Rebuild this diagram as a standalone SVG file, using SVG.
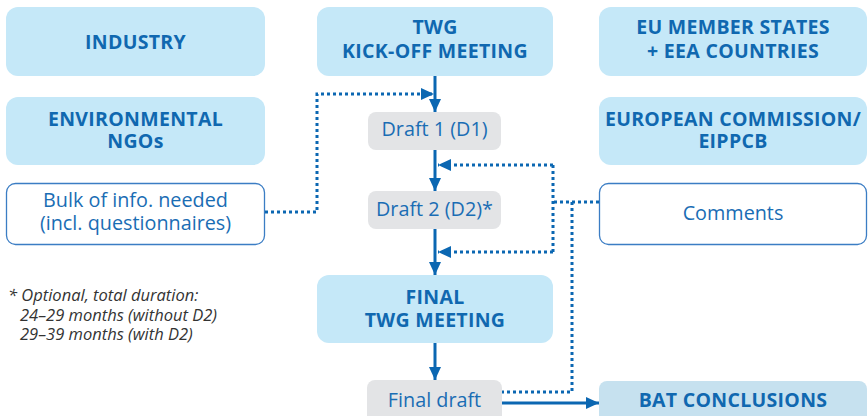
<svg xmlns="http://www.w3.org/2000/svg" width="868" height="416" viewBox="0 0 868 416">
<defs>
<style>
.blue{fill:#c5e8f8}
.grey{fill:#e3e4e6}
.out{fill:#ffffff;stroke:#3b7dc4;stroke-width:1.3}
.bat{fill:#c6e1ef}
.h{font-family:"Open Sans","Noto Sans","DejaVu Sans",sans-serif;font-weight:bold;font-size:19.5px;fill:#1068b0;text-anchor:middle;letter-spacing:0.3px}
.t{font-family:"Open Sans","Noto Sans","DejaVu Sans",sans-serif;font-size:19.8px;fill:#1a6db4;text-anchor:middle}
.n{font-family:"Open Sans","Noto Sans","DejaVu Sans",sans-serif;font-style:italic;font-size:16.5px;fill:#333333}
.solid{stroke:#0b67b2;stroke-width:3;fill:none}
.dot{stroke:#0b67b2;stroke-width:3;fill:none;stroke-dasharray:3 3}
</style>
<marker id="ah" markerUnits="userSpaceOnUse" markerWidth="14" markerHeight="14" viewBox="0 0 14 14" refX="13" refY="7" orient="auto">
<path d="M0,1 L13,7 L0,13 Z" fill="#0b67b2"/>
</marker>
</defs>

<g id="industry"><rect class="blue" x="6" y="7" width="259" height="69" rx="12"/><text class="h" x="135.5" y="49">INDUSTRY</text></g>
<g id="ngos"><rect class="blue" x="6" y="97" width="259" height="68" rx="12"/><text class="h" x="135.5" y="126">ENVIRONMENTAL<tspan x="135.5" dy="22">NGOs</tspan></text></g>
<g id="bulk"><rect class="out" x="6.5" y="183.5" width="258" height="61" rx="9"/><text class="t" x="135.5" y="207">Bulk of info. needed<tspan x="135.5" dy="23">(incl. questionnaires)</tspan></text></g>

<g id="kickoff"><rect class="blue" x="317" y="7" width="236" height="69" rx="12"/><text class="h" x="435" y="34">TWG<tspan x="435" dy="24">KICK-OFF MEETING</tspan></text></g>
<g id="draft1"><rect class="grey" x="368" y="112" width="133" height="38" rx="8"/><text class="t" x="434.5" y="136">Draft 1 (D1)</text></g>
<g id="draft2"><rect class="grey" x="368" y="191" width="133" height="38" rx="8"/><text class="t" x="434.5" y="215.5">Draft 2 (D2)*</text></g>
<g id="finaltwg"><rect class="blue" x="317" y="275" width="236" height="68" rx="12"/><text class="h" x="435" y="304">FINAL<tspan x="435" dy="23">TWG MEETING</tspan></text></g>
<g id="finaldraft"><rect class="grey" x="367" y="380" width="135" height="44" rx="8"/><text class="t" x="434.5" y="407">Final draft</text></g>

<g id="memberstates"><rect class="blue" x="599" y="7" width="268" height="69" rx="12"/><text class="h" x="733" y="34">EU MEMBER STATES<tspan x="733" dy="24">+ EEA COUNTRIES</tspan></text></g>
<g id="commission"><rect class="blue" x="599" y="97" width="268" height="68" rx="12"/><text class="h" x="733" y="126">EUROPEAN COMMISSION/<tspan x="733" dy="22">EIPPCB</tspan></text></g>
<g id="comments"><rect class="out" x="599.5" y="183.5" width="267" height="61" rx="9"/><text class="t" x="733" y="220">Comments</text></g>
<g id="bat"><rect class="bat" x="599" y="381" width="268" height="44" rx="8"/><text class="h" x="733" y="407">BAT CONCLUSIONS</text></g>

<g id="note">
<text class="n" x="8" y="301">* Optional, total duration:<tspan x="20" dy="20">24–29 months (without D2)</tspan><tspan x="20" dy="19">29–39 months (with D2)</tspan></text>
</g>

<g id="connectors">
<line class="solid" x1="435" y1="76" x2="435" y2="112" marker-end="url(#ah)"/>
<line class="solid" x1="435" y1="150" x2="435" y2="191" marker-end="url(#ah)"/>
<line class="solid" x1="435" y1="229" x2="435" y2="275" marker-end="url(#ah)"/>
<line class="solid" x1="435" y1="343" x2="435" y2="380" marker-end="url(#ah)"/>
<line class="solid" x1="502" y1="403" x2="599" y2="403" marker-end="url(#ah)"/>
<polyline class="dot" points="265,212 317,212 317,94 434,94" marker-end="url(#ah)"/>
<polyline class="dot" points="599,202 553,202"/>
<polyline class="dot" points="553,165 553,252"/>
<line class="dot" x1="553" y1="165" x2="438" y2="165" marker-end="url(#ah)"/>
<line class="dot" x1="553" y1="252" x2="438" y2="252" marker-end="url(#ah)"/>
<polyline class="dot" points="572,202 572,392 502,392"/>
</g>
</svg>
